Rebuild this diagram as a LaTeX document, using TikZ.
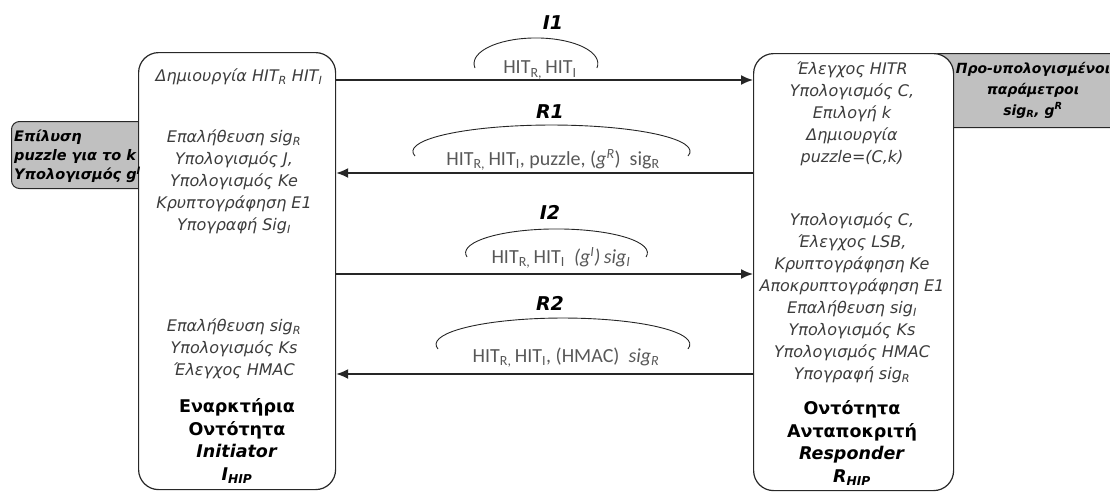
\documentclass[tikz,border=0pt]{standalone}
\usepackage{fontspec}
\setmainfont{DejaVu Sans}
\newfontfamily\calib{Carlito}
\usetikzlibrary{arrows.meta}
\definecolor{txtgray}{RGB}{60,60,60}
\definecolor{lblgray}{RGB}{88,88,88}
\definecolor{boxgray}{RGB}{192,192,192}
\definecolor{edge}{RGB}{40,40,40}
\begin{document}
\begin{tikzpicture}[x=1pt,y=-1pt,
  entity/.style={draw=edge, line width=1.2pt, rounded corners=20pt, fill=white, inner sep=0pt, anchor=north west},
  side/.style={draw=edge, line width=1pt, rounded corners=8pt, fill=boxgray, inner sep=0pt, anchor=north west},
  steps/.style={font=\itshape\fontsize{16}{22}\selectfont, text=txtgray, align=center, inner sep=0pt},
  role/.style={font=\bfseries\fontsize{17.5}{22.5}\selectfont, text=black, align=center, inner sep=0pt},
  note/.style={font=\bfseries\itshape\fontsize{14}{21}\selectfont, text=black, inner sep=0pt},
  msgname/.style={font=\bfseries\itshape\fontsize{19}{20}\selectfont, inner sep=0pt},
  payload/.style={font=\calib\fontsize{20}{22}\selectfont, text=lblgray, inner sep=0pt},
  msg/.style={line width=1.6pt, draw=black!85, -{Latex[length=12pt,width=10pt]}},
  bracearc/.style={draw=black!85, line width=0.9pt},
]
\useasboundingbox (0,0) rectangle (1110,491);
\clip (0,0) rectangle (1110,491);

% side notes (behind the entity boxes)
\node[side, minimum width=200pt, minimum height=74pt] (pre) at (930,53) {};
\node[side, minimum width=140pt, minimum height=67pt] (solve) at (11,121) {};

% the two HIP entities
\node[entity, minimum width=197pt, minimum height=437pt] (ini) at (138,52) {};
\node[entity, minimum width=200pt, minimum height=437pt] (resp) at (753,53) {};

% note texts
\node[note, align=center] (pretext) at (1033,90)
  {Προ-υπολογισμένοι\\παράμετροι\\sig\textsubscript{R}, g\textsuperscript{R}};
\node[note, align=left, anchor=west, font=\bfseries\itshape\fontsize{14.5}{19}\selectfont] (solvetext) at (14,156)
  {Επίλυση\\puzzle για το k\\Υπολογισμός g\textsuperscript{I}};

% initiator processing
\node[steps] (ini0) at (239,77) {Δημιουργία HIT\textsubscript{R} HIT\textsubscript{I}};
\node[steps] (ini1) at (234,182) {Επαλήθευση sig\textsubscript{R}\\Υπολογισμός J,\\Υπολογισμός Ke\\Κρυπτογράφηση E1\\Υπογραφή Sig\textsubscript{I}};
\node[steps] (ini2) at (234,349) {Επαλήθευση sig\textsubscript{R}\\Υπολογισμός Ks\\Έλεγχος HMAC};
\node[role] (inirole) at (237,441) {Εναρκτήρια\\Οντότητα\\\textit{Initiator}\\\textit{I\textsubscript{HIP}}};

% responder processing
\node[steps] (resp1) at (852,114) {Έλεγχος HITR\\Υπολογισμός C,\\Επιλογή k\\Δημιουργία\\puzzle=(C,k)};
\node[steps] (resp2) at (852,298) {Υπολογισμός C,\\Έλεγχος LSB,\\Κρυπτογράφηση Ke\\Αποκρυπτογράφηση E1\\Επαλήθευση sig\textsubscript{I}\\Υπολογισμός Ks\\Υπολογισμός HMAC\\Υπογραφή sig\textsubscript{R}};
\node[role] (resprole) at (852,443) {Οντότητα\\Ανταποκριτή\\\textit{Responder}\\\textit{R\textsubscript{HIP}}};

% message levels
\coordinate (yI1) at (0,80);
\coordinate (yR1) at (0,173);
\coordinate (yI2) at (0,274);
\coordinate (yR2) at (0,374);

\draw[msg] (ini.east |- yI1) -- (resp.west |- yI1);
\draw[msg] (resp.west |- yR1) -- (ini.east |- yR1);
\draw[msg] (ini.east |- yI2) -- (resp.west |- yI2);
\draw[msg] (resp.west |- yR2) -- (ini.east |- yR2);

% message contents
\draw[bracearc] (475,68) arc[start angle=170, end angle=370, x radius=61.9, y radius=25.6];
\draw[bracearc] (415,156) arc[start angle=170, end angle=370, x radius=138.6, y radius=26.4];
\draw[bracearc] (467,257) arc[start angle=170, end angle=370, x radius=90.9, y radius=23.9];
\draw[bracearc] (438,349) arc[start angle=170, end angle=370, x radius=126.9, y radius=26.4];

\node[msgname] (nI1) at (553,23) {I1};
\node[msgname] (nR1) at (550,112) {R1};
\node[msgname] (nI2) at (550,212) {I2};
\node[msgname] (nR2) at (550,303) {R2};

\node[payload] (pI1) at (540,70) {HIT\textsubscript{R,}\,HIT\textsubscript{I}};
\node[payload] (pR1) at (553,160) {HIT\textsubscript{R,}\,HIT\textsubscript{I}, puzzle, (\textit{g}\textsuperscript{\textit{R}})\ \ sig\textsubscript{R}};
\node[payload] (pI2) at (561,258) {HIT\textsubscript{R,}\,HIT\textsubscript{I}\ \ \textit{(g\textsuperscript{I})\,sig\textsubscript{I}}};
\node[payload] (pR2) at (566,358) {HIT\textsubscript{R,}\,HIT\textsubscript{I}, (HMAC)\ \ \textit{sig\textsubscript{R}}};
\end{tikzpicture}
\end{document}
